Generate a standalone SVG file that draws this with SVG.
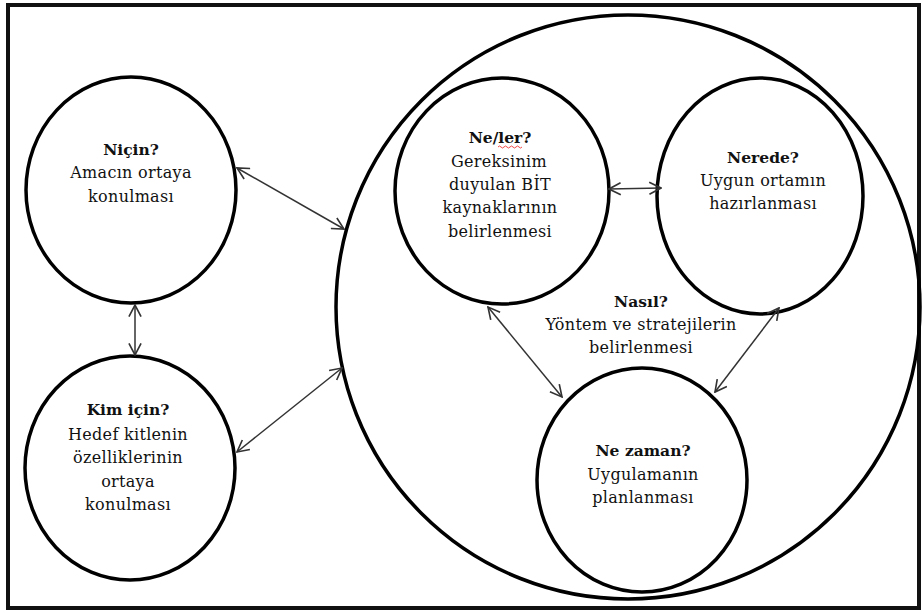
<svg xmlns="http://www.w3.org/2000/svg" width="924" height="614" viewBox="0 0 924 614">
  <style>
    .frame { fill: none; stroke: #111; stroke-width: 4; }
    .node { fill: none; stroke: #000; stroke-width: 3.5; }
    .link { fill: none; stroke: #333; stroke-width: 1.5; }
    .label { font-family: "DejaVu Serif", serif; font-size: 16px; fill: #111; text-anchor: middle; letter-spacing: 0.3px; }
    .title { font-weight: bold; font-size: 15.5px; letter-spacing: 0; }
  </style>
  <defs>
    <marker id="arrow" markerUnits="userSpaceOnUse" markerWidth="14" markerHeight="14" viewBox="0 0 12 12" refX="11" refY="6" orient="auto-start-reverse">
      <path d="M1,0.8 L11,6 L1,11.2" fill="none" stroke="#333" stroke-width="1.4"/>
    </marker>
  </defs>

  <rect class="frame" x="8" y="5" width="911" height="603"/>

  <!-- outer grouping circle -->
  <g id="process">
    <ellipse class="node" cx="628" cy="307" rx="292" ry="292"/>
    <text class="label title" x="641" y="307">Nasıl?</text>
    <text class="label" x="641" y="330">Yöntem ve stratejilerin</text>
    <text class="label" x="641" y="353">belirlenmesi</text>
  </g>

  <g id="nicin">
    <ellipse class="node" cx="131" cy="190" rx="105" ry="113"/>
    <text class="label title" x="131" y="155">Niçin?</text>
    <text class="label" x="131" y="178">Amacın ortaya</text>
    <text class="label" x="131" y="202">konulması</text>
  </g>

  <g id="kim-icin">
    <ellipse class="node" cx="130" cy="468" rx="105" ry="112"/>
    <text class="label title" x="128" y="415">Kim için?</text>
    <text class="label" x="128" y="440">Hedef kitlenin</text>
    <text class="label" x="128" y="463">özelliklerinin</text>
    <text class="label" x="128" y="487">ortaya</text>
    <text class="label" x="128" y="510">konulması</text>
  </g>

  <g id="neler">
    <ellipse class="node" cx="502" cy="191" rx="107" ry="113"/>
    <text class="label title" x="500" y="143">Ne/ler?</text>
    <!-- spell-check squiggle under "ler" -->
    <path d="M498,147 q1.5,-2 3,0 t3,0 t3,0 t3,0 t3,0 t3,0 t3,0 t3,0" fill="none" stroke="#e33" stroke-width="0.9"/>
    <text class="label" x="499" y="167">Gereksinim</text>
    <text class="label" x="500" y="190">duyulan BİT</text>
    <text class="label" x="500" y="213">kaynaklarının</text>
    <text class="label" x="500" y="237">belirlenmesi</text>
  </g>

  <g id="nerede">
    <ellipse class="node" cx="760" cy="196" rx="103" ry="118"/>
    <text class="label title" x="763" y="163">Nerede?</text>
    <text class="label" x="763" y="186">Uygun ortamın</text>
    <text class="label" x="763" y="209">hazırlanması</text>
  </g>

  <g id="ne-zaman">
    <ellipse class="node" cx="642" cy="480" rx="105" ry="112"/>
    <text class="label title" x="643" y="456">Ne zaman?</text>
    <text class="label" x="643" y="480">Uygulamanın</text>
    <text class="label" x="643" y="503">planlanması</text>
  </g>

  <g id="connectors">
    <line class="link" x1="237" y1="168" x2="344" y2="229" marker-start="url(#arrow)" marker-end="url(#arrow)"/>
    <line class="link" x1="237" y1="452" x2="342" y2="368" marker-start="url(#arrow)" marker-end="url(#arrow)"/>
    <line class="link" x1="135" y1="305" x2="135" y2="355" marker-start="url(#arrow)" marker-end="url(#arrow)"/>
    <line class="link" x1="609" y1="189" x2="661" y2="188" stroke-width="2" marker-start="url(#arrow)" marker-end="url(#arrow)"/>
    <line class="link" x1="488" y1="307" x2="562" y2="397" marker-start="url(#arrow)" marker-end="url(#arrow)"/>
    <line class="link" x1="779" y1="308" x2="715" y2="392" marker-start="url(#arrow)" marker-end="url(#arrow)"/>
  </g>
</svg>
